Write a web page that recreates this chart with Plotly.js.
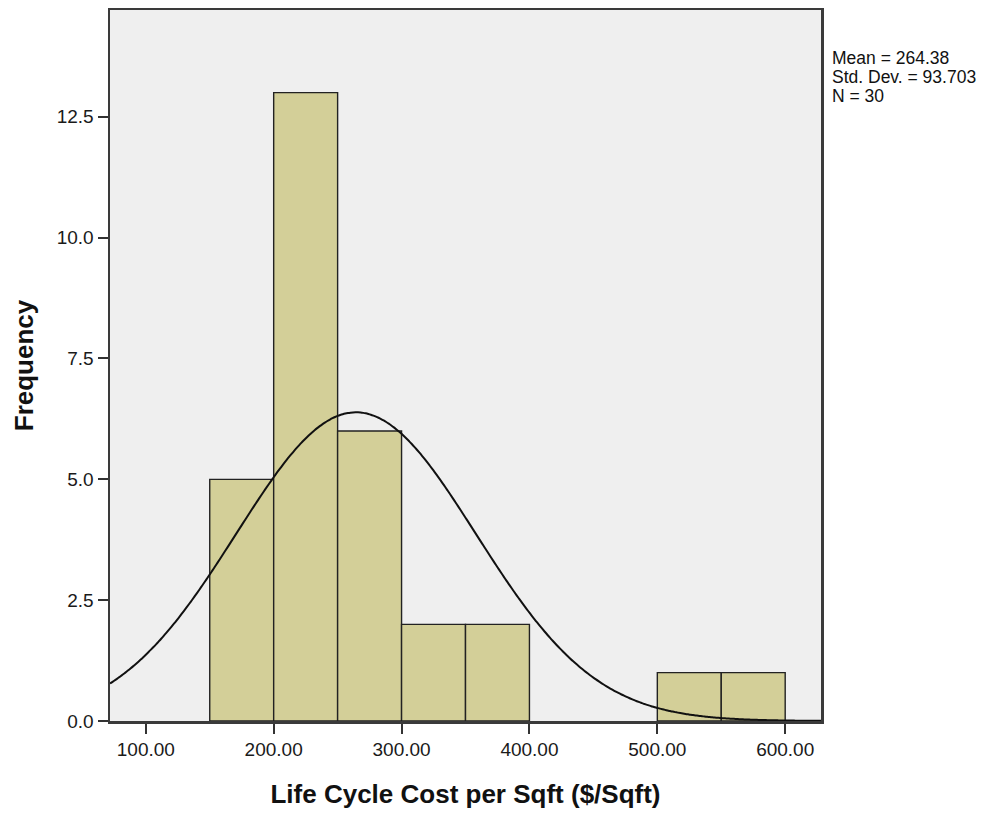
<!DOCTYPE html>
<html>
<head>
<meta charset="utf-8">
<script src="https://cdn.plot.ly/plotly-3.0.1.min.js"></script>
<style>html,body{margin:0;padding:0;background:#fff;}#chart{width:999px;height:813px;}</style>
</head>
<body>
<div id="chart"></div>
<script>
// Histogram bins (left edge, count), bin width 50
const binStarts = [150, 200, 250, 300, 350, 400, 450, 500, 550];
const binCounts = [5, 13, 6, 2, 2, 0, 0, 1, 1];
const binWidth = 50;
// Summary statistics shown in the legend
const meanVal = 264.38;
const sdVal = 93.703;
const nVal = 30;
const statLabels = ["Mean = 264.38", "Std. Dev. = 93.703", "N = 30"];
const xTickVals = [100, 200, 300, 400, 500, 600];
const yTickVals = [0, 2.5, 5, 7.5, 10, 12.5];

const barX = [], barY = [];
binStarts.forEach((s, i) => { if (binCounts[i] > 0) { barX.push(s + binWidth / 2); barY.push(binCounts[i]); } });

// Fitted normal curve scaled to counts (N * binWidth * pdf)
const curveX = [], curveY = [];
for (let x = 72; x <= 628; x += 2) {
  curveX.push(x);
  const z = (x - meanVal) / sdVal;
  curveY.push(nVal * binWidth * Math.exp(-0.5 * z * z) / (sdVal * Math.sqrt(2 * Math.PI)));
}

const FONT = 'Liberation Sans, Arial, sans-serif';

const data = [
  { type: 'bar', x: barX, y: barY, width: binWidth,
    marker: { color: '#d3cf98', line: { color: '#222', width: 1.4 } },
    hoverinfo: 'skip', showlegend: false },
  { type: 'scatter', mode: 'lines', x: curveX, y: curveY,
    line: { color: '#111', width: 2, shape: 'spline' }, hoverinfo: 'skip', showlegend: false }
];

const annots = statLabels.map((t, i) => ({
  text: t, xref: 'paper', yref: 'paper', x: 1.014, y: 1 - (58 + 19 * i - 10) / 711,
  xanchor: 'left', yanchor: 'middle', showarrow: false, borderpad: 0,
  font: { family: FONT, size: 17.5, color: '#111' }
}));

const layout = {
  width: 999, height: 813,
  margin: { l: 110, r: 178, t: 10, b: 92 },
  paper_bgcolor: '#fff', plot_bgcolor: '#efefef',
  font: { family: FONT, size: 19, color: '#111' },
  bargap: 0,
  xaxis: {
    range: [72, 628], tickvals: xTickVals, tickformat: '.2f',
    ticks: 'outside', ticklen: 10, tickwidth: 2, tickcolor: '#333',
    showgrid: false, zeroline: false,
    showline: true, linecolor: '#3a3a3a', linewidth: 2.5, mirror: true,
    tickfont: { family: FONT, size: 19, color: '#1a1a1a' },
    title: { text: '<b>Life Cycle Cost per Sqft ($/Sqft)</b>', font: { family: FONT, size: 26, color: '#111' }, standoff: 26 }
  },
  yaxis: {
    range: [0, 14.71], tickvals: yTickVals, tickformat: '.1f',
    ticks: 'outside', ticklen: 10, tickwidth: 2, tickcolor: '#333',
    showgrid: false, zeroline: false,
    showline: true, linecolor: '#3a3a3a', linewidth: 2.5, mirror: true,
    tickfont: { family: FONT, size: 19, color: '#1a1a1a' },
    title: { text: '<b>Frequency</b>', font: { family: FONT, size: 26, color: '#111' }, standoff: 16 }
  },
  annotations: annots
};

Plotly.newPlot('chart', data, layout, { displayModeBar: false, staticPlot: true });
</script>
</body>
</html>
